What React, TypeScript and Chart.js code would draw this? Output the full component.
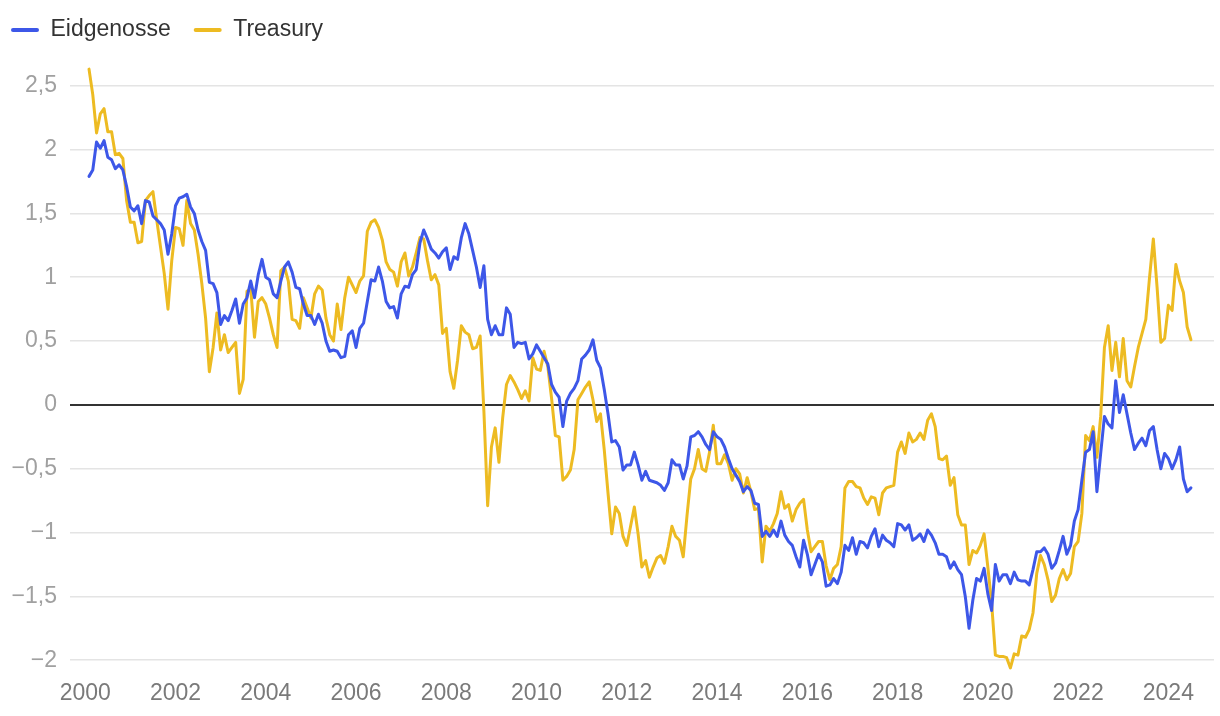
import React, { useEffect, useRef } from 'react';
import { Chart, registerables } from 'chart.js';

Chart.register(...registerables);

// ---- data (monthly, Jan 2000 – Jun 2024) ----
const START_YEAR = 2000;
const SERIES_NAMES = ['Eidgenosse', 'Treasury'];
const SERIES_COLORS = ['#3d57e8', '#edbb22'];

const eidgenosse = [
  1.79, 1.84, 2.06, 2.01, 2.07, 1.94, 1.92, 1.85, 1.88, 1.84,
  1.71, 1.55, 1.52, 1.56, 1.42, 1.60, 1.59, 1.48, 1.45, 1.42,
  1.37, 1.18, 1.34, 1.56, 1.62, 1.63, 1.65, 1.55, 1.50, 1.37,
  1.28, 1.21, 0.96, 0.95, 0.88, 0.63, 0.70, 0.66, 0.74, 0.83,
  0.64, 0.79, 0.84, 0.97, 0.84, 1.02, 1.14, 1.00, 0.98, 0.87,
  0.84, 0.97, 1.08, 1.12, 1.04, 0.92, 0.91, 0.79, 0.70, 0.70,
  0.63, 0.71, 0.64, 0.50, 0.42, 0.43, 0.42, 0.37, 0.38, 0.55,
  0.58, 0.45, 0.60, 0.64, 0.81, 0.98, 0.97, 1.08, 0.97, 0.81,
  0.76, 0.77, 0.68, 0.87, 0.93, 0.92, 1.02, 1.06, 1.27, 1.37,
  1.30, 1.22, 1.19, 1.15, 1.20, 1.23, 1.06, 1.16, 1.14, 1.31,
  1.42, 1.34, 1.21, 1.08, 0.92, 1.09, 0.67, 0.55, 0.62, 0.55,
  0.55, 0.76, 0.71, 0.45, 0.49, 0.48, 0.49, 0.36, 0.40, 0.47,
  0.42, 0.37, 0.32, 0.16, 0.10, 0.06, -0.17, 0.03, 0.09, 0.13,
  0.19, 0.36, 0.39, 0.43, 0.51, 0.35, 0.29, 0.12, -0.07, -0.29,
  -0.28, -0.33, -0.51, -0.47, -0.47, -0.37, -0.47, -0.59, -0.52, -0.59,
  -0.60, -0.61, -0.63, -0.67, -0.61, -0.43, -0.47, -0.47, -0.58, -0.48,
  -0.25, -0.24, -0.21, -0.25, -0.31, -0.35, -0.21, -0.25, -0.27, -0.33,
  -0.42, -0.50, -0.55, -0.60, -0.68, -0.64, -0.67, -0.77, -0.78, -1.03,
  -0.99, -1.03, -0.98, -1.03, -0.91, -1.02, -1.07, -1.10, -1.19, -1.27,
  -1.06, -1.17, -1.33, -1.25, -1.17, -1.23, -1.42, -1.41, -1.36, -1.40,
  -1.31, -1.10, -1.14, -1.04, -1.17, -1.07, -1.08, -1.12, -1.03, -0.97,
  -1.11, -1.02, -1.06, -1.08, -1.11, -0.93, -0.94, -0.98, -0.94, -1.06,
  -1.04, -1.01, -1.07, -0.98, -1.02, -1.08, -1.17, -1.17, -1.19, -1.28,
  -1.23, -1.29, -1.33, -1.50, -1.75, -1.53, -1.36, -1.38, -1.28, -1.48,
  -1.61, -1.25, -1.38, -1.33, -1.33, -1.40, -1.31, -1.37, -1.38, -1.38,
  -1.41, -1.29, -1.15, -1.15, -1.12, -1.17, -1.28, -1.24, -1.14, -1.03,
  -1.17, -1.10, -0.91, -0.82, -0.59, -0.37, -0.35, -0.21, -0.68, -0.38,
  -0.09, -0.15, -0.18, 0.19, -0.06, 0.08, -0.07, -0.22, -0.35, -0.30,
  -0.26, -0.32, -0.20, -0.17, -0.35, -0.50, -0.38, -0.42, -0.50, -0.43,
  -0.33, -0.58, -0.68, -0.65,
];

const treasury = [
  2.63, 2.43, 2.13, 2.28, 2.32, 2.14, 2.14, 1.96, 1.97, 1.93,
  1.60, 1.43, 1.43, 1.27, 1.28, 1.60, 1.64, 1.67, 1.45, 1.24,
  1.03, 0.75, 1.13, 1.39, 1.38, 1.25, 1.60, 1.42, 1.37, 1.18,
  0.95, 0.68, 0.26, 0.45, 0.72, 0.43, 0.55, 0.41, 0.45, 0.49,
  0.09, 0.20, 0.89, 0.91, 0.53, 0.81, 0.84, 0.79, 0.68, 0.55,
  0.45, 1.05, 1.08, 0.97, 0.67, 0.66, 0.60, 0.84, 0.76, 0.68,
  0.87, 0.93, 0.90, 0.68, 0.55, 0.50, 0.79, 0.59, 0.84, 1.00,
  0.94, 0.88, 0.97, 1.01, 1.36, 1.43, 1.45, 1.39, 1.29, 1.12,
  1.06, 1.04, 0.93, 1.12, 1.19, 1.01, 1.08, 1.19, 1.31, 1.30,
  1.13, 0.98, 1.02, 0.94, 0.56, 0.60, 0.26, 0.13, 0.35, 0.62,
  0.57, 0.55, 0.44, 0.45, 0.54, -0.05, -0.79, -0.33, -0.18, -0.45,
  -0.10, 0.16, 0.23, 0.18, 0.12, 0.05, 0.11, 0.03, 0.37, 0.28,
  0.27, 0.42, 0.30, 0.05, -0.24, -0.25, -0.59, -0.56, -0.51, -0.35,
  0.04, 0.09, 0.14, 0.18, 0.04, -0.13, -0.07, -0.35, -0.69, -1.01,
  -0.80, -0.85, -1.03, -1.10, -0.95, -0.80, -1.01, -1.27, -1.22, -1.35,
  -1.27, -1.20, -1.18, -1.24, -1.11, -0.95, -1.03, -1.06, -1.19, -0.87,
  -0.58, -0.50, -0.35, -0.50, -0.52, -0.37, -0.16, -0.46, -0.46, -0.39,
  -0.46, -0.59, -0.50, -0.54, -0.69, -0.57, -0.68, -0.82, -0.81, -1.23,
  -0.95, -0.99, -0.93, -0.85, -0.68, -0.81, -0.78, -0.91, -0.82, -0.77,
  -0.74, -0.98, -1.15, -1.11, -1.07, -1.07, -1.26, -1.37, -1.28, -1.25,
  -1.11, -0.65, -0.60, -0.60, -0.64, -0.65, -0.73, -0.78, -0.72, -0.73,
  -0.86, -0.69, -0.65, -0.64, -0.63, -0.37, -0.29, -0.38, -0.22, -0.29,
  -0.27, -0.22, -0.27, -0.12, -0.07, -0.17, -0.42, -0.43, -0.40, -0.63,
  -0.57, -0.86, -0.94, -0.94, -1.25, -1.14, -1.16, -1.10, -1.01, -1.27,
  -1.55, -1.96, -1.97, -1.97, -1.98, -2.06, -1.95, -1.96, -1.81, -1.82,
  -1.76, -1.63, -1.32, -1.18, -1.25, -1.37, -1.54, -1.49, -1.36, -1.29,
  -1.37, -1.32, -1.11, -1.07, -0.85, -0.24, -0.28, -0.17, -0.41, -0.09,
  0.45, 0.62, 0.27, 0.49, 0.22, 0.52, 0.19, 0.14, 0.30, 0.45,
  0.56, 0.67, 1.00, 1.30, 0.92, 0.49, 0.52, 0.78, 0.74, 1.10,
  0.97, 0.88, 0.61, 0.51,
];

const X_MIN = 1999.662;
const X_MAX = 2025.011;
const X_STEP = 2;
const Y_MIN = -2.103;
const Y_MAX = 2.768;
const Y_STEP = 0.5;

const FONT = "'Liberation Sans', Arial, Helvetica, sans-serif";

function toPoints(values: number[]) {
  // end-of-month positions on a decimal-year axis
  return values.map((v, i) => ({ x: START_YEAR + (i + 1) / 12, y: v }));
}

function fmtY(v: number): string {
  const s = String(Math.round(v * 100) / 100).replace('.', ',');
  return v < 0 ? '\u2212' + s.replace('-', '') : s;
}

export default function App() {
  const ref = useRef<HTMLCanvasElement | null>(null);

  useEffect(() => {
    if (!ref.current) return;
    Chart.defaults.font.family = FONT;
    const seriesValues = [eidgenosse, treasury];
    const chart = new Chart(ref.current, {
      type: 'line',
      data: {
        datasets: SERIES_NAMES.map((name, i) => ({
          label: name,
          data: toPoints(seriesValues[i]),
          borderColor: SERIES_COLORS[i],
          backgroundColor: SERIES_COLORS[i],
          borderWidth: 3,
          pointRadius: 0,
          tension: 0,
          borderJoinStyle: 'round' as const,
          borderCapStyle: 'round' as const,
        })),
      },
      options: {
        responsive: false,
        animation: false,
        devicePixelRatio: 1,
        layout: { padding: { top: -4.5, left: -12, right: 6, bottom: 2 } },
        plugins: {
          tooltip: { enabled: false },
          legend: {
            position: 'top',
            align: 'start',
            labels: {
              font: { family: FONT, size: 23 },
              color: '#333333',
              boxWidth: 28,
              boxHeight: 4,
              padding: 23,
              useBorderRadius: true,
              borderRadius: 2,
              generateLabels: (c: any) =>
                c.data.datasets.map((ds: any, i: number) => ({
                  text: ds.label,
                  fillStyle: ds.borderColor,
                  strokeStyle: ds.borderColor,
                  lineWidth: 0,
                  hidden: false,
                  datasetIndex: i,
                  borderRadius: 2,
                  fontColor: '#333333',
                })),
            },
          },
        },
        scales: {
          x: {
            type: 'linear',
            min: X_MIN,
            max: X_MAX,
            grid: { display: false, drawTicks: false },
            border: { display: false },
            ticks: {
              stepSize: X_STEP,
              includeBounds: false,
              maxTicksLimit: 30,
              autoSkip: false,
              maxRotation: 0,
              padding: 6.5,
              color: '#7a7a7a',
              font: { family: FONT, size: 23 },
              callback: (v: any) => String(v),
            },
          },
          y: {
            type: 'linear',
            min: Y_MIN,
            max: Y_MAX,
            afterFit: (scale: any) => {
              scale.width = 82;
            },
            grid: {
              drawTicks: false,
              color: (ctx: any) => (ctx.tick && ctx.tick.value === 0 ? '#333333' : '#e4e4e4'),
              lineWidth: (ctx: any) => (ctx.tick && ctx.tick.value === 0 ? 2 : 1.5),
            },
            border: { display: false },
            ticks: {
              stepSize: Y_STEP,
              includeBounds: false,
              maxTicksLimit: 30,
              autoSkip: false,
              padding: 13,
              color: '#a0a0a0',
              font: { family: FONT, size: 23 },
              callback: (v: any) => fmtY(Number(v)),
            },
          },
        },
      },
    } as any);
    return () => chart.destroy();
  }, []);

  return (
    <div style={{ position: 'fixed', left: 0, top: 0, width: 1220, height: 716, background: '#ffffff' }}>
      <canvas ref={ref} width={1220} height={716} style={{ display: 'block', width: 1220, height: 716 }} />
    </div>
  );
}
